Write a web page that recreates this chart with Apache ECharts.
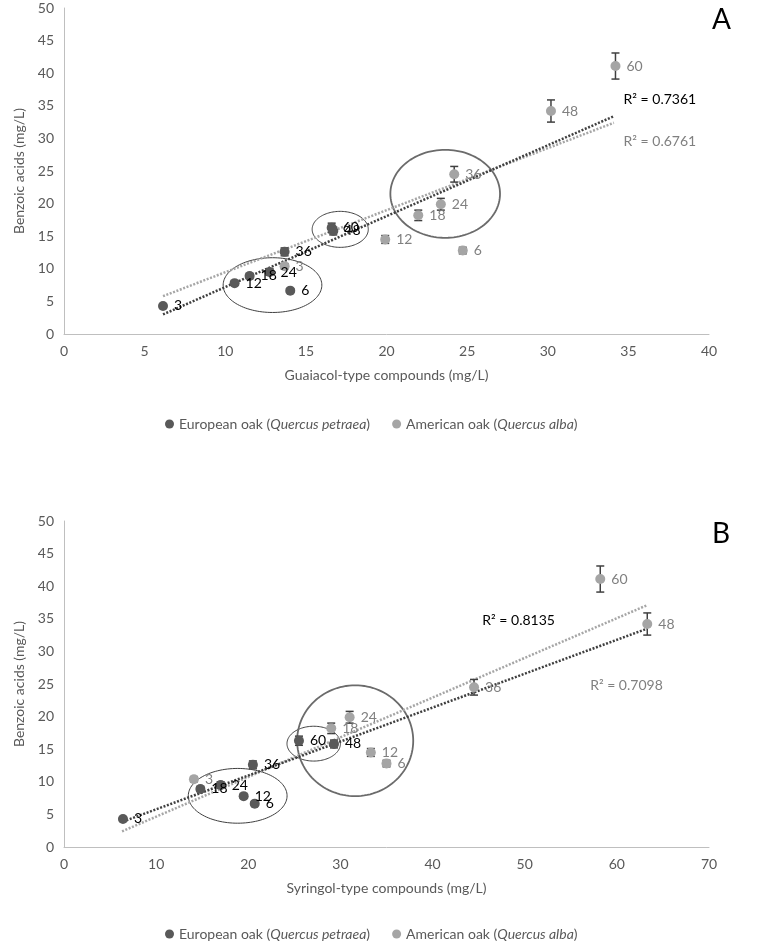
<!DOCTYPE html>
<html><head><meta charset="utf-8">
<script src="https://cdn.jsdelivr.net/npm/echarts@6/dist/echarts.min.js"></script>
<style>html,body{margin:0;padding:0;background:#fff}#c{width:757px;height:945px}</style>
</head><body><div id="c"></div>
<script>
// ---- data ----
const samples = ['3','6','12','18','24','36','48','60'];
// Benzoic acids (mg/L), shared by both panels
const benzEU = [4.3, 6.65, 7.8, 8.9, 9.5, 12.6, 15.8, 16.3];
const benzEUErr = [0.3, 0.3, 0.3, 0.4, 0.5, 0.6, 0.6, 0.7];
const benzAM = [10.4, 12.8, 14.5, 18.2, 19.9, 24.5, 34.2, 41.1];
const benzAMErr = [0.4, 0.5, 0.6, 0.8, 0.9, 1.2, 1.7, 2.0];
// Guaiacol-type compounds (mg/L) - panel A
const guaiEU = [6.14, 14.03, 10.58, 11.51, 12.75, 13.68, 16.7, 16.6];
const guaiAM = [13.68, 24.73, 19.92, 21.97, 23.37, 24.2, 30.2, 34.2];
// Syringol-type compounds (mg/L) - panel B
const syrEU = [6.4, 20.7, 19.5, 14.8, 17.0, 20.5, 29.3, 25.5];
const syrAM = [14.1, 35.0, 33.3, 29.0, 31.0, 44.5, 63.3, 58.2];
// trendline end points
const trendA_EU = [[6.14, 3.0], [34.1, 33.4]];
const trendA_AM = [[6.14, 5.8], [34.1, 32.4]];
const trendB_EU = [[6.4, 3.9], [63.3, 33.5]];
const trendB_AM = [[6.3, 2.4], [63.3, 37.1]];
const r2Values = {A: ['0.7361', '0.6761'], B: ['0.8135', '0.7098']};
const xTicksA = {min: 0, max: 40, interval: 5};
const xTicksB = {min: 0, max: 70, interval: 10};
const yTicks = {min: 0, max: 50, interval: 5};

// ---- styles ----
const FONT = 'Lato';
const DARK = '#595959', LIGHT = '#A5A5A5', TXT = '#595959';

const chart = echarts.init(document.getElementById('c'));

function pairs(xs, ys) { return xs.map((x, i) => [x, ys[i]]); }

function scatter(name, xs, ys, xi, color, labelColor) {
  return {
    name, type: 'scatter', xAxisIndex: xi, yAxisIndex: xi, z: 5,
    data: pairs(xs, ys), symbol: 'circle', symbolSize: 10,
    itemStyle: {color, opacity: 1},
    label: {show: true, position: 'right', distance: 6, formatter: p => samples[p.dataIndex],
      color: labelColor, fontFamily: FONT, fontSize: 14},
    emphasis: {disabled: true}
  };
}
function errBars(xs, ys, errs, xi) {
  return {
    type: 'custom', xAxisIndex: xi, yAxisIndex: xi, silent: true, z: 4,
    data: xs.map((x, i) => [x, ys[i] - errs[i], ys[i] + errs[i]]),
    renderItem(params, api) {
      const lo = api.coord([api.value(0), api.value(1)]);
      const hi = api.coord([api.value(0), api.value(2)]);
      const w = 4, st = {stroke: '#404040', lineWidth: 1.5};
      return {type: 'group', children: [
        {type: 'line', shape: {x1: lo[0], y1: lo[1], x2: hi[0], y2: hi[1]}, style: st},
        {type: 'line', shape: {x1: lo[0] - w, y1: lo[1], x2: lo[0] + w, y2: lo[1]}, style: st},
        {type: 'line', shape: {x1: hi[0] - w, y1: hi[1], x2: hi[0] + w, y2: hi[1]}, style: st}
      ]};
    }
  };
}
function trend(pts, xi, color) {
  return {type: 'line', xAxisIndex: xi, yAxisIndex: xi, data: pts, symbol: 'none', silent: true, z: 3,
    lineStyle: {color, width: 2.5, type: [2, 1.6]}, emphasis: {disabled: true}};
}
function ellipses(list, xi) {
  return {
    type: 'custom', xAxisIndex: xi, yAxisIndex: xi, silent: true, z: 2,
    data: list,
    renderItem(params, api) {
      const cx = api.value(0), cy = api.value(1), rx = api.value(2), ry = api.value(3);
      const pts = [];
      for (let k = 0; k <= 120; k++) {
        const t = k / 120 * Math.PI * 2;
        pts.push(api.coord([cx + rx * Math.cos(t), cy + ry * Math.sin(t)]));
      }
      const thick = api.value(4) > 1;
      return {type: 'polygon', shape: {points: pts},
        style: {fill: 'none', stroke: thick ? '#6b6b6b' : '#3f3f3f', lineWidth: thick ? 1.8 : 1}};
    }
  };
}
function r2Labels(list, xi) {
  return {
    type: 'custom', xAxisIndex: xi, yAxisIndex: xi, silent: true, z: 6,
    data: list.map(d => [d[0], d[1], d[2]]),
    renderItem(params, api) {
      const p = api.coord([api.value(0), api.value(1)]);
      const item = list[params.dataIndex];
      return {type: 'text', x: p[0], y: p[1],
        style: {text: item[3], fill: item[4], font: '14px ' + FONT, align: 'left', verticalAlign: 'middle'}};
    }
  };
}

const axisLine = {show: true, lineStyle: {color: '#BFBFBF', width: 1}};
const axisLabel = {color: TXT, fontFamily: FONT, fontSize: 14};
const nameStyle = {color: TXT, fontFamily: FONT, fontSize: 14};

function xAxis(gi, t, name) {
  return {type: 'value', gridIndex: gi, min: t.min, max: t.max, interval: t.interval,
    axisLine, axisTick: {show: false}, splitLine: {show: false}, axisLabel: {...axisLabel, margin: 10},
    name, nameLocation: 'middle', nameGap: 34, nameTextStyle: nameStyle};
}
function yAxis(gi) {
  return {type: 'value', gridIndex: gi, min: yTicks.min, max: yTicks.max, interval: yTicks.interval,
    axisLine, axisTick: {show: false}, splitLine: {show: false}, axisLabel: {...axisLabel, margin: 10},
    name: 'Benzoic acids (mg/L)', nameLocation: 'middle', nameGap: 38, nameRotate: 90, nameTextStyle: nameStyle};
}
const legendBase = {
  data: [{name: 'European oak', itemStyle: {color: DARK}}, {name: 'American oak', itemStyle: {color: LIGHT}}],
  left: 160, icon: 'circle', itemWidth: 9, itemHeight: 9, itemGap: 22, selectedMode: false,
  textStyle: {color: TXT, fontFamily: FONT, fontSize: 14, rich: {i: {fontStyle: 'italic', color: TXT, fontFamily: FONT, fontSize: 14}}},
  formatter: n => n === 'European oak' ? 'European oak ({i|Quercus petraea})' : 'American oak ({i|Quercus alba})'
};

chart.setOption({
  animation: false,
  backgroundColor: '#fff',
  grid: [
    {left: 64, top: 8, width: 645, height: 326, outerBoundsMode: 'none'},
    {left: 64, top: 521, width: 645, height: 326, outerBoundsMode: 'none'}
  ],
  xAxis: [xAxis(0, xTicksA, 'Guaiacol-type compounds (mg/L)'), xAxis(1, xTicksB, 'Syringol-type compounds (mg/L)')],
  yAxis: [yAxis(0), yAxis(1)],
  legend: [{...legendBase, top: 412}, {...legendBase, top: 922}],
  graphic: [
    {type: 'text', left: 712, top: 6, style: {text: 'A', font: '28px ' + FONT, fill: '#000'}},
    {type: 'text', left: 712, top: 520, style: {text: 'B', font: '28px ' + FONT, fill: '#000'}}
  ],
  series: [
    ellipses([[12.93, 7.5, 3.06, 4.2, 1], [17.13, 16.05, 1.74, 2.76, 1], [23.64, 21.5, 3.4, 6.75, 2]], 0),
    trend(trendA_AM, 0, '#A6A6A6'),
    trend(trendA_EU, 0, '#404040'),
    errBars(guaiEU, benzEU, benzEUErr, 0),
    errBars(guaiAM, benzAM, benzAMErr, 0),
    scatter('European oak', guaiEU, benzEU, 0, DARK, '#000'),
    scatter('American oak', guaiAM, benzAM, 0, LIGHT, '#808080'),
    r2Labels([[34.7, 35.9, 0, 'R² = ' + r2Values.A[0], '#000'], [34.7, 29.5, 0, 'R² = ' + r2Values.A[1], '#808080']], 0),

    ellipses([[18.85, 7.85, 5.36, 4.2, 1], [27.1, 15.85, 2.9, 2.67, 1], [31.6, 16.3, 6.3, 8.5, 2]], 1),
    trend(trendB_AM, 1, '#A6A6A6'),
    trend(trendB_EU, 1, '#404040'),
    errBars(syrEU, benzEU, benzEUErr, 1),
    errBars(syrAM, benzAM, benzAMErr, 1),
    scatter('European oak', syrEU, benzEU, 1, DARK, '#000'),
    scatter('American oak', syrAM, benzAM, 1, LIGHT, '#808080'),
    r2Labels([[45.4, 34.7, 0, 'R² = ' + r2Values.B[0], '#000'], [57.1, 24.7, 0, 'R² = ' + r2Values.B[1], '#808080']], 1)
  ]
});
</script></body></html>
